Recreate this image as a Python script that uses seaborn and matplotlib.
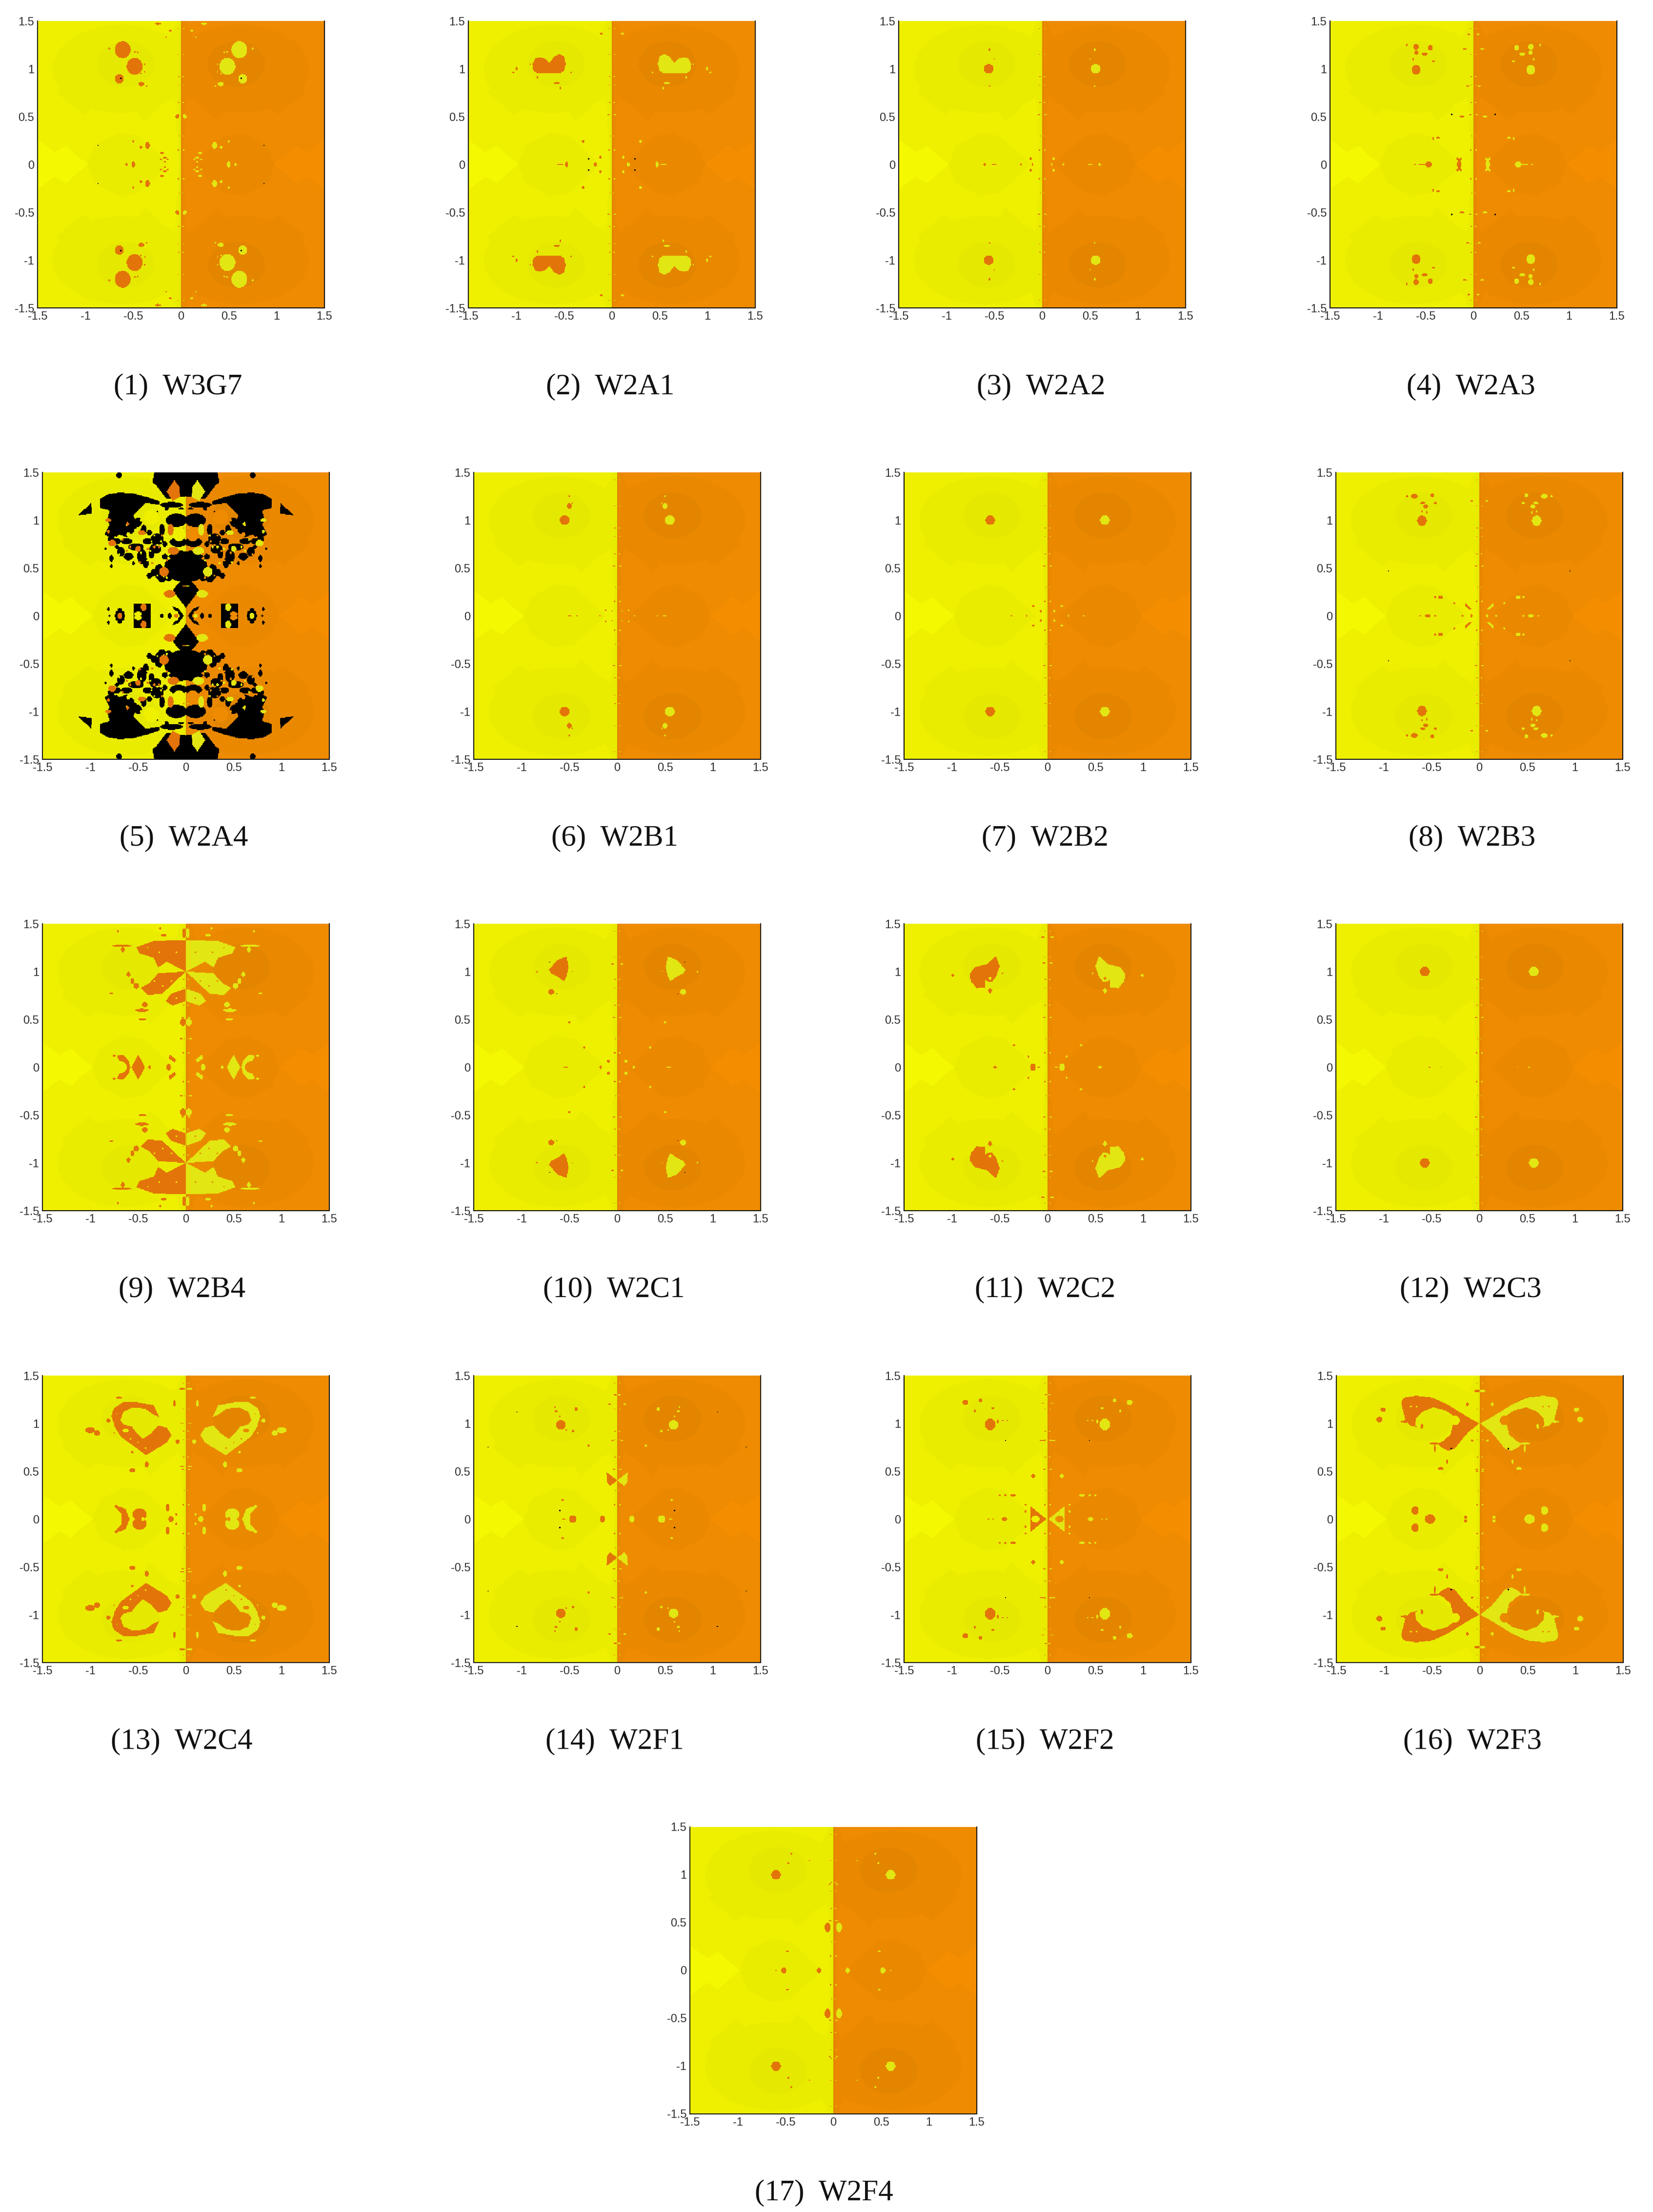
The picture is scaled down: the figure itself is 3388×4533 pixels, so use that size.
import matplotlib
matplotlib.use('Agg')
import matplotlib.pyplot as plt
import numpy as np
import pandas as pd
import seaborn as sns
from matplotlib.colors import ListedColormap
from matplotlib.path import Path

# 4 numbers = ellipse (x, y, rx, ry), list of pairs = polygon outline.
# The other three quadrants are its mirror images, colours swapped on the right.

names = ['W3G7', 'W2A1', 'W2A2', 'W2A3', 'W2A4', 'W2B1', 'W2B2', 'W2B3', 'W2B4',
         'W2C1', 'W2C2', 'W2C3', 'W2C4', 'W2F1', 'W2F2', 'W2F3', 'W2F4']
tick_values = [-1.5, -1, -0.5, 0, 0.5, 1, 1.5]
tick_labels = ['-1.5', '-1', '-0.5', '0', '0.5', '1', '1.5']

# colour codes of the cells
TIP, BASE, DARK, DARKER, BLOB, BLACK = 0, 1, 2, 3, 4, 5
left_colors = ['#F4F800', '#EEF000', '#EAEC00', '#E5E800', '#E3740A', '#000000']
right_colors = ['#F58D00', '#EE8B00', '#EA8900', '#E48500', '#E2E612']

# faint background rings, same in every panel
tip_shape = [(-1.5, 0), (-1.5, .26), (-1.32, .13), (-1.2, .2), (-1.1, .1), (-.97, 0)]
lens_shape = [(-.98, 0), (-.9, .2), (-.65, .33), (-.45, .3), (-.25, .12), (-.12, 0)]
ring_shapes = [(-.62, 1.0, .72, .46),
               [(-1.3, .75), (-1.02, .52), (-.75, .72), (-1.1, 1.1)],
               [(-.5, .62), (-.38, .45), (-.2, .62), (-.35, .8)]]
seam_teeth = [(0, 1.5), (-.05, 1.5), (-.09, 1.4), (-.15, 1.25), (-.08, 1.1), (-.05, 1.0), (-.04, .85),
              (-.07, .7), (-.04, .55), (-.05, .4), (-.03, .25), (-.04, .1), (-.02, 0), (0, 0)]
seam_core = [(0, 1.5), (-.015, 1.5), (-.02, .8), (-.012, 0), (0, 0)]
seam_dust = [(-.03, .15, .008, .006), (-.02, .3, .008, .006), (-.035, .52, .01, .006), (-.02, .65, .008, .006),
             (-.03, .83, .01, .006), (-.025, .92, .008, .006), (-.03, 1.15, .01, .006), (-.03, 1.42, .008, .006)]

cluster_halo = [(-.58, 1.05, .3, .24)]

w3g7_blobs = [(-.61, 1.2, .082, .09), (-.485, 1.025, .083, .088), (-.645, .895, .047, .05), (-.415, .84, .03, .02),
              (-.75, 1.21, .012, .012), (-.48, 1.18, .012, .008), (-.45, 1.17, .012, .008), (-.38, 1.05, .008, .008),
              (-.38, .97, .008, .008), (-.42, .95, .008, .008), (-.36, .82, .008, .008), (-.24, 1.47, .03, .012),
              (-.11, 1.4, .015, .01), (-.16, 1.33, .008, .008), (-.35, .2, .025, .035), (-.42, .18, .015, .012),
              (-.5, .24, .012, .012), (-.5, 0, .02, .035), (-.57, 0, .012, .012), (-.2, .12, .02, .012),
              (-.17, .07, .02, .012), (-.21, .05, .012, .008), (-.14, .05, .012, .008), (-.17, .03, .012, .008),
              (-.04, .5, .02, .02)]
w3g7_dots = [(-.63, .9), (-.865, .2)]

w2a1_polys = [[(-.83, 1.05), (-.8, 1.11), (-.74, 1.12), (-.69, 1.1), (-.655, 1.06), (-.6, 1.13), (-.55, 1.155),
               (-.5, 1.13), (-.48, 1.05), (-.5, .98), (-.54, .95), (-.78, .95), (-.82, .98)]]
w2a1_blobs = [(-.995, 1.0, .012, .02), (-1.03, .96, .01, .01), (-.575, .85, .03, .012), (-.54, .8, .008, .012),
              (-.78, .91, .01, .01), (-.85, 1.05, .008, .006), (-.43, .96, .008, .008), (-.11, 1.37, .015, .012),
              (-.3, .24, .012, .012), (-.17, 0, .016, .024), (-.12, .075, .012, .012), (-.54, 0, .03, .008),
              (-.47, 0, .016, .03)]
w2a1_dots = [(-.24, .06)]

w2a2_blobs = [(-.56, 1.0, .05, .05), (-.55, 1.2, .012, .012), (-.55, .82, .008, .008), (-.6, .0, .012, .012),
              (-.5, 0, .025, .01), (-.12, .06, .012, .012), (-.22, 0, .01, .012), (-.1, .0, .008, .015), (-.5, 1.1, .008, .008)]

w2a3_blobs = [(-.6, 1.23, .03, .03), (-.45, 1.22, .025, .03), (-.51, 1.155, .03, .015), (-.595, 1.17, .02, .025),
              (-.6, .99, .048, .05), (-.7, 1.25, .008, .02), (-.42, 1.08, .02, .008), (-.63, 1.1, .008, .01),
              (-.09, 1.21, .02, .008), (-.06, .82, .012, .008), (-.12, .5, .025, .01), (-.05, 1.36, .012, .01),
              (-.47, 0, .035, .03), (-.53, 0, .04, .01), (-.61, 0, .01, .01), (-.15, 0, .02, .06),
              (-.17, .06, .012, .012), (-.13, .06, .012, .012), (-.37, .28, .02, .012), (-.42, .27, .008, .015)]
w2a3_dots = [(-.225, .525)]

w2a4_black_polys = [[(-.9, 1.22), (-.82, 1.27), (-.7, 1.29), (-.55, 1.28), (-.4, 1.24), (-.28, 1.2), (-.28, 1.16),
                     (-.42, 1.18), (-.5, 1.1), (-.55, 1.05), (-.5, .95), (-.55, .87), (-.62, .82), (-.7, .85),
                     (-.75, .8), (-.85, .85), (-.8, .95), (-.82, 1.0), (-.8, 1.1), (-.9, 1.13)],
                    [(-.99, 1.18), (-.98, 1.07), (-1.13, 1.05)],
                    [(-.33, 1.5), (0, 1.5), (0, 1.25), (-.2, 1.22), (-.3, 1.35), (-.35, 1.4)],
                    [(0, .42), (-.14, .27), (-.05, .15), (0, .08)],
                    [(-.15, .1), (-.08, .08), (-.02, 0), (-.05, 0), (-.1, .04)],
                    [(-.55, .13), (-.37, .13), (-.37, 0), (-.55, 0)]]
w2a4_black = [(-.1, 1.0, .11, .07), (-.08, .77, .09, .05), (-.05, .52, .17, .16), (-.28, .46, .05, .08),
              (-.7, 1.47, .03, .03), (-.78, .8, .04, .03), (-.62, .78, .06, .03), (-.52, .72, .08, .04),
              (-.46, .62, .05, .08), (-.4, .78, .05, .03), (-.32, .7, .06, .05), (-.28, .8, .03, .03),
              (-.6, .9, .05, .04), (-.5, .98, .04, .05), (-.44, .9, .03, .05), (-.38, .87, .03, .03),
              (-.25, .9, .03, .06), (-.22, .75, .025, .03), (-.34, .45, .025, .04), (-.78, .6, .02, .04),
              (-.38, .42, .03, .03), (-.69, 0, .05, .08), (-.25, 0, .02, .025), (-.17, 0, .02, .03),
              (-.8, 0, .012, .012), (-.81, .07, .012, .02), (-.05, 0, .015, .03), (-.72, .72, .02, .02),
              (-.66, .68, .02, .015), (-.58, .62, .02, .02), (-.55, .55, .015, .02), (-.2, 1.12, .02, .02),
              (-.12, 1.15, .03, .012), (-.05, 1.12, .03, .012), (-.3, 1.08, .01, .02), (-.56, .95, .04, .06),
              (-.3, .8, .07, .06), (-.18, .47, .05, .11), (-.25, .38, .04, .03), (-.15, 1.16, .12, .03),
              (-.68, .67, .04, .05), (-.6, .62, .05, .04), (-.72, .78, .04, .03), (-.42, .55, .03, .05),
              (-.36, .65, .03, .05), (-.22, .62, .03, .03), (-.84, .7, .012, .012), (-.78, .52, .012, .02)]
w2a4_holes = [(-.36, 1.03, .08, .08), (-.07, .85, .06, .07), (-.6, .85, .02, .02), (-.42, .72, .02, .02),
              (-.5, .02, .04, .025), (-.1, .03, .02, .02), (-.25, .65, .02, .015), (-.55, .78, .012, .01),
              (-.36, .78, .012, .01), (-.22, .82, .012, .012), (-.47, .66, .012, .012), (-.3, .6, .01, .01),
              (-.66, .72, .012, .01), (-.7, .64, .01, .012), (-.58, .68, .014, .01), (-.52, .6, .012, .014),
              (-.44, .83, .01, .012), (-.33, .84, .01, .01), (-.3, .74, .012, .01), (-.4, .58, .012, .012),
              (-.37, .68, .01, .012), (-.26, .78, .01, .012), (-.62, .95, .01, .014), (-.53, .9, .012, .01),
              (-.47, 1.0, .012, .014), (-.18, .6, .012, .012), (-.2, .4, .012, .012), (-.3, .42, .01, .01),
              (-.72, .06, .008, .012), (-.66, .06, .008, .012), (-.74, .82, .01, .01), (-.8, .73, .01, .012)]
w2a4_blobs = [[(-.07, 1.35), (-.06, 1.24), (-.14, 1.2), (-.2, 1.3), (-.12, 1.42)],
              (-.77, .76, .04, .035), (-.46, .87, .04, .025), (-.5, .7, .03, .03), (-.81, 1.0, .03, .02),
              (-.81, .88, .015, .02), (-.61, .96, .015, .02), (-.23, .46, .05, .05), (-.13, .68, .06, .04),
              (-.16, .9, .03, .06), (-.17, .23, .06, .04), (-.69, 0, .025, .03), (-.44, .09, .03, .04),
              (-.02, .31, .02, .006), (-.1, 0, .02, .02), (-.33, .72, .015, .012), (-.58, .72, .012, .012),
              (-.4, .7, .012, .012), (-.62, .68, .012, .012), (-.28, .72, .012, .012), (-.48, .56, .012, .014),
              (-.35, .55, .01, .012), (-.25, .84, .01, .012), (-.66, .8, .01, .01), (-.2, .58, .012, .01)]

w2b1_blobs = [(-.55, 1.0, .05, .05), (-.5, 1.15, .025, .03), (-.5, 1.25, .01, .01), (-.47, 1.18, .008, .008),
              (-.5, 0, .02, .01), (-.42, 0, .01, .012), (-.12, .06, .008, .012), (-.18, 0, .01, .008), (-.05, .05, .008, .008)]

w2b2_blobs = [(-.6, 1.0, .05, .05), (-.15, .1, .012, .012), (-.07, .05, .012, .012), (-.38, 0, .01, .008),
              (-.22, 0, .008, .012)]

w2b3_blobs = [(-.6, .995, .05, .055), (-.68, 1.25, .035, .025), (-.49, 1.26, .02, .02), (-.755, 1.25, .015, .015),
              (-.59, 1.18, .025, .012), (-.56, 1.145, .025, .02), (-.46, 1.18, .018, .01), (-.6, 1.09, .008, .012),
              (-.55, 1.08, .008, .012), (-.08, 1.2, .015, .008), (-.54, 0, .03, .018), (-.62, 0, .01, .01),
              (-.46, 0, .01, .012), (-.405, .195, .025, .018), (-.46, .195, .014, .012),
              [(-.15, .135), (-.08, .07), (-.1, .065), (-.15, .1)],
              (-.08, 0, .01, .02), (-.175, 0, .012, .012), (-.26, .13, .012, .012)]
w2b3_dots = [(-.95, .47)]

w2b4_polys = [[(-.52, 1.255), (-.336, 1.32), (0, 1.33), (0, 1.0), (-.2, 1.1), (-.29, 1.045), (-.336, 1.145), (-.484, 1.19)],
              [(0, 1.0), (-.29, .98), (-.38, .88), (-.47, .83), (-.4, .755), (-.245, .77), (-.06, .945)],
              [(-.007, .82), (-.155, .77), (-.21, .69), (-.14, .645), (-.007, .69)],
              [(-.72, .12), (-.66, .13), (-.6, .07), (-.58, 0), (-.61, 0), (-.64, .05), (-.7, .07)],
              [(-.57, 0), (-.5, .13), (-.45, .05), (-.43, 0)],
              [(-.17, .13), (-.1, .08), (-.12, .05), (-.18, .09)]]
w2b4_blobs = [(-.6, .97, .02, .025), (-.56, .9, .02, .03), (-.52, .85, .03, .03), (-.67, 1.27, .1, .012),
              (-.66, 1.23, .02, .03), (-.43, .655, .03, .025), (-.46, .595, .07, .017), (-.455, .5, .04, .012),
              (-.03, .47, .03, .04), (-.05, .3, .015, .008), (-.71, 1.42, .01, .012), (-.23, 1.38, .03, .015),
              (-.27, 1.45, .012, .01), (-.38, 0, .015, .02), (-.75, .12, .015, .012), (-.18, 0, .025, .035),
              (-.78, .77, .02, .008), (-.02, 1.4, .02, .05)]
w2b4_holes = [(-.2, 1.08, .008, .008), (-.33, .9, .008, .008), (-.24, .85, .008, .008), (-.28, 1.2, .008, .008),
              (-.1, 1.2, .008, .008), (-.15, .9, .008, .008), (-.1, .72, .008, .008), (-.4, 1.25, .008, .008)]

w2c1_polys = [[(-.715, 1.02), (-.626, 1.12), (-.53, 1.16), (-.51, 1.05), (-.53, .945), (-.555, .9), (-.605, .935), (-.69, .98)]]
w2c1_blobs = [(-.69, .79, .03, .03), (-.84, 1.0, .01, .008), (-.5, .47, .015, .012), (-.54, 0, .025, .008),
              (-.345, .207, .012, .012), (-.09, .063, .016, .016), (-.175, 0, .01, .02), (-.02, .15, .01, .006),
              (-.05, 1.08, .012, .008), (-.47, 1.0, .008, .006)]
w2c1_dots = [(-.705, 1.1), (-.635, .77)]

w2c2_polys = [[(-.813, .967), (-.768, 1.044), (-.631, 1.078), (-.54, 1.162), (-.501, 1.056), (-.54, .944), (-.586, .889),
               (-.631, .9), (-.653, .922), (-.653, .833), (-.745, .827), (-.802, .9)]]
w2c2_blobs = [(-.6, .8, .02, .025), (-.99, .96, .015, .012), (-.153, 0, .03, .04), (-.09, 0, .016, .008),
              (-.55, 0, .025, .012), (-.35, .23, .012, .012), (-.2, .11, .01, .01), (-.04, 1.09, .015, .008),
              (-.05, 1.36, .02, .008), (-.8, .98, .008, .006), (-.47, .98, .008, .008)]
w2c2_holes = [(-.6, .93, .015, .015)]

w2c3_blobs = [(-.57, 1.0, .05, .05), (-.52, 0, .012, .006), (-.4, 0, .006, .008), (-.02, .5, .006, .006)]

w2c4_polys = [[(-.757, 1.156), (-.655, 1.222), (-.518, 1.222), (-.336, 1.189), (-.28, 1.067), (-.336, 1.089), (-.427, 1.156),
               (-.564, 1.167), (-.655, 1.122), (-.684, 1.033), (-.655, .989), (-.564, .967), (-.518, .9), (-.45, .838),
               (-.359, .9), (-.291, .978), (-.2, .956), (-.15, .878), (-.2, .8), (-.416, .667), (-.564, .778),
               (-.677, .856), (-.745, .967), (-.78, 1.078)],
              [(-.72, .144), (-.63, .1), (-.586, 0), (-.677, 0), (-.677, .055), (-.72, .1)]]
w2c4_blobs = [(-1.0, .93, .05, .03), (-.93, .9, .03, .03), (-.7, 1.27, .03, .012), (-.12, 1.21, .015, .035),
              (-.04, 1.36, .03, .012), (-.085, .81, .02, .025), (-.56, .51, .03, .025), (-.41, .57, .02, .03),
              (-.81, 1.03, .02, .02), (-.56, .7, .015, .01), (-.484, .05, .075, .06), (-.73, .13, .012, .02),
              (-.19, .12, .02, .04), (-.155, 0, .03, .03), (-.1, .05, .012, .012), (-.75, .9, .012, .01),
              (-.04, .55, .02, .006), (-.04, 1.0, .02, .006)]
w2c4_holes = [(-.63, .925, .035, .02), (-.45, 0, .015, .025), (-.5, .8, .008, .008), (-.42, .74, .008, .008),
              (-.58, .84, .008, .008), (-.72, 1.1, .006, .006)]

w2f1_blobs = [(-.59, .985, .05, .05), (-.43, 1.15, .016, .02), (-.64, 1.13, .016, .012), (-.65, 1.17, .008, .01),
              (-.6, 1.07, .008, .008), (-.46, .92, .012, .015), (-.53, .93, .008, .008), (-.3, .77, .012, .01),
              [(-.11, .49), (0, .405), (-.075, .345), (-.105, .385)],
              (-.465, 0, .04, .04), (-.56, 0, .02, .008), (-.155, 0, .026, .035), (-.57, .2, .012, .01),
              (-.08, 1.2, .01, .01), (-.02, 1.3, .015, .008), (-.05, .82, .01, .006)]
w2f1_dots = [(-1.05, 1.12), (-1.35, .755), (-.6, .09)]

w2f2_polys = [[(-.18, .135), (-.01, 0), (-.18, 0)]]
w2f2_blobs = [(-.6, .99, .055, .06), (-.86, 1.22, .03, .028), (-.7, 1.24, .02, .02), (-.76, 1.13, .012, .014),
              (-.57, 1.16, .015, .01), (-.52, 1.02, .01, .02), (-.47, 1.03, .012, .006), (-.42, 1.03, .008, .006),
              (-.57, 0, .01, .01), (-.62, 0, .01, .01), (-.45, 0, .03, .022), (-.36, .25, .03, .016),
              (-.44, .25, .015, .01), (-.5, .25, .012, .01), (-.23, .08, .012, .012), (-.23, .15, .012, .01),
              (-.15, .45, .02, .02), (-.05, 1.21, .02, .006), (-.05, .82, .03, .005), (-.02, 1.3, .01, .006)]
w2f2_holes = [(-.125, 0, .045, .035)]
w2f2_dots = [(-.44, .82)]

w2f3_polys = [[(-.823, 1.213), (-.8, 1.268), (-.666, 1.29), (-.487, 1.268), (-.307, 1.18), (-.15, 1.08), (-.004, 1.0),
               (-.128, .902), (-.262, .736), (-.33, .714), (-.397, .747), (-.442, .79), (-.386, .814), (-.307, .88),
               (-.285, .98), (-.217, 1.0), (-.262, 1.069), (-.352, 1.135), (-.487, 1.169), (-.6, 1.124), (-.666, 1.058),
               (-.677, .98), (-.655, .958), (-.733, .98), (-.778, 1.035)]]
w2f3_blobs = [(-1.01, 1.145, .03, .02), (-1.05, 1.04, .03, .03), (-.78, 1.02, .05, .012), (-.605, .97, .012, .025),
              (-.475, .79, .05, .012), (-.47, .74, .01, .04), (-.41, .53, .03, .015), (-.34, .6, .012, .02),
              (-.677, .09, .035, .045), (-.52, 0, .055, .05), (-.03, 1.34, .03, .012), (-.13, 1.2, .015, .02),
              (-.15, .02, .015, .015), (-.08, .82, .012, .012), (-.03, .5, .012, .008)]
w2f3_holes = [(-.26, 1.03, .05, .05), (-.72, 1.18, .012, .008), (-.66, 1.18, .008, .008)]
w2f3_dots = [(-.3, .735)]

w2f4_blobs = [(-.6, 1.0, .05, .05), (-.47, 1.12, .012, .012), (-.44, 1.22, .01, .01), (-.52, 0, .03, .03),
              (-.15, 0, .022, .03), (-.06, .45, .03, .05), (-.6, 0, .012, .008), (-.48, .2, .012, .008),
              (-.25, 1.15, .008, .008), (-.04, .9, .008, .008)]

panel_layers = [
    [(BLOB, w3g7_blobs), (BLACK, w3g7_dots)],
    [(BLOB, w2a1_polys), (BLOB, w2a1_blobs), (BLACK, w2a1_dots)],
    [(BLOB, w2a2_blobs)],
    [(BLOB, w2a3_blobs), (BLACK, w2a3_dots)],
    [(BLACK, w2a4_black_polys), (BLACK, w2a4_black), (BASE, w2a4_holes), (BLOB, w2a4_blobs)],
    [(BLOB, w2b1_blobs)],
    [(BLOB, w2b2_blobs)],
    [(BLOB, w2b3_blobs), (BLACK, w2b3_dots)],
    [(BLOB, w2b4_polys), (BLOB, w2b4_blobs), (DARK, w2b4_holes)],
    [(BLOB, w2c1_polys), (BLOB, w2c1_blobs), (BLACK, w2c1_dots)],
    [(BLOB, w2c2_polys), (BLOB, w2c2_blobs), (DARK, w2c2_holes)],
    [(BLOB, w2c3_blobs)],
    [(BLOB, w2c4_polys), (BLOB, w2c4_blobs), (DARK, w2c4_holes)],
    [(BLOB, w2f1_blobs), (BLACK, w2f1_dots)],
    [(BLOB, w2f2_polys), (BLOB, w2f2_blobs), (BASE, w2f2_holes), (BLACK, w2f2_dots)],
    [(BLOB, w2f3_polys), (BLOB, w2f3_blobs), (DARK, w2f3_holes), (BLACK, w2f3_dots)],
    [(BLOB, w2f4_blobs)],
]

# axes left edge per panel and top edge per row, in pixels of the page
panel_left = [77, 960, 1842, 2726, 87, 971, 1853, 2738, 87, 971, 1853, 2738, 87, 971, 1853, 2739, 1414]
row_top = [43, 968, 1893, 2819, 3744]
caption_shift = [-6, -3, -2, -5, -4, -5, -5, -15, -8, -7, -5, -18, -9, -5, -5, -15, -19]

WIDTH, HEIGHT, AX_SIZE = 3388, 4533, 588
N = 200
cell = 1.5 / N
xs = -1.5 + (np.arange(N) + .5) * cell
ys = 1.5 - (np.arange(N) + .5) * cell
X, Y = np.meshgrid(xs, ys)


def paint(grid, shapes, code):
    for s in shapes:
        if isinstance(s, list):
            inside = Path(s).contains_points(np.c_[X.ravel(), Y.ravel()]).reshape(X.shape)
        else:
            if len(s) == 2:
                s = (s[0], s[1], 0, 0)
            rx, ry = max(s[2], cell * .75), max(s[3], cell * .75)
            inside = ((X - s[0]) / rx) ** 2 + ((Y - s[1]) / ry) ** 2 <= 1
        grid[inside] = code


def build_panel(layers):
    quad = np.full((N, N), BASE)
    paint(quad, [tip_shape], TIP)
    paint(quad, [lens_shape] + ring_shapes + [seam_teeth], DARK)
    paint(quad, cluster_halo + [seam_core], DARKER)
    paint(quad, seam_dust, BLOB)
    for code, shapes in layers:
        paint(quad, shapes, code)
    left = np.vstack([quad, quad[::-1]])
    to_right = np.array([6, 7, 8, 9, 10, 5])
    right = to_right[left[:, ::-1]]
    return np.hstack([left, right])


sns.set_theme(style='white')
plt.rcParams['font.family'] = ['Liberation Sans', 'DejaVu Sans']
cmap = ListedColormap(left_colors + right_colors)
fig = plt.figure(figsize=(WIDTH / 100, HEIGHT / 100), dpi=100)

for i, name in enumerate(names):
    top = row_top[i // 4]
    ax = fig.add_axes([panel_left[i] / WIDTH, 1 - (top + AX_SIZE) / HEIGHT, AX_SIZE / WIDTH, AX_SIZE / HEIGHT])
    table = pd.DataFrame(build_panel(panel_layers[i]))
    sns.heatmap(table, ax=ax, cmap=cmap, vmin=-.5, vmax=10.5, cbar=False, xticklabels=False, yticklabels=False)
    ticks_x = [(v + 1.5) / 3 * 2 * N for v in tick_values]
    ticks_y = [(1.5 - v) / 3 * 2 * N for v in tick_values]
    ax.set_xticks(ticks_x, tick_labels)
    ax.set_yticks(ticks_y, tick_labels, rotation=0)
    ax.set_xlabel('')
    ax.set_ylabel('')
    ax.tick_params(length=0, labelsize=17, labelcolor='#303030', pad=5)
    for side in ['left', 'bottom', 'right']:
        ax.spines[side].set_visible(True)
        ax.spines[side].set_color('#111111')
        ax.spines[side].set_linewidth(1.5)
    ax.spines['top'].set_visible(False)
    caption_x = panel_left[i] + AX_SIZE / 2 + caption_shift[i]
    caption_y = top + 750
    fig.text(caption_x / WIDTH, 1 - caption_y / HEIGHT, '(%d)  %s' % (i + 1, name), ha='center', va='center',
             fontsize=44, family=['Liberation Serif', 'DejaVu Serif'], color='#111111')

fig.savefig('out.png', dpi=100, facecolor='white')
